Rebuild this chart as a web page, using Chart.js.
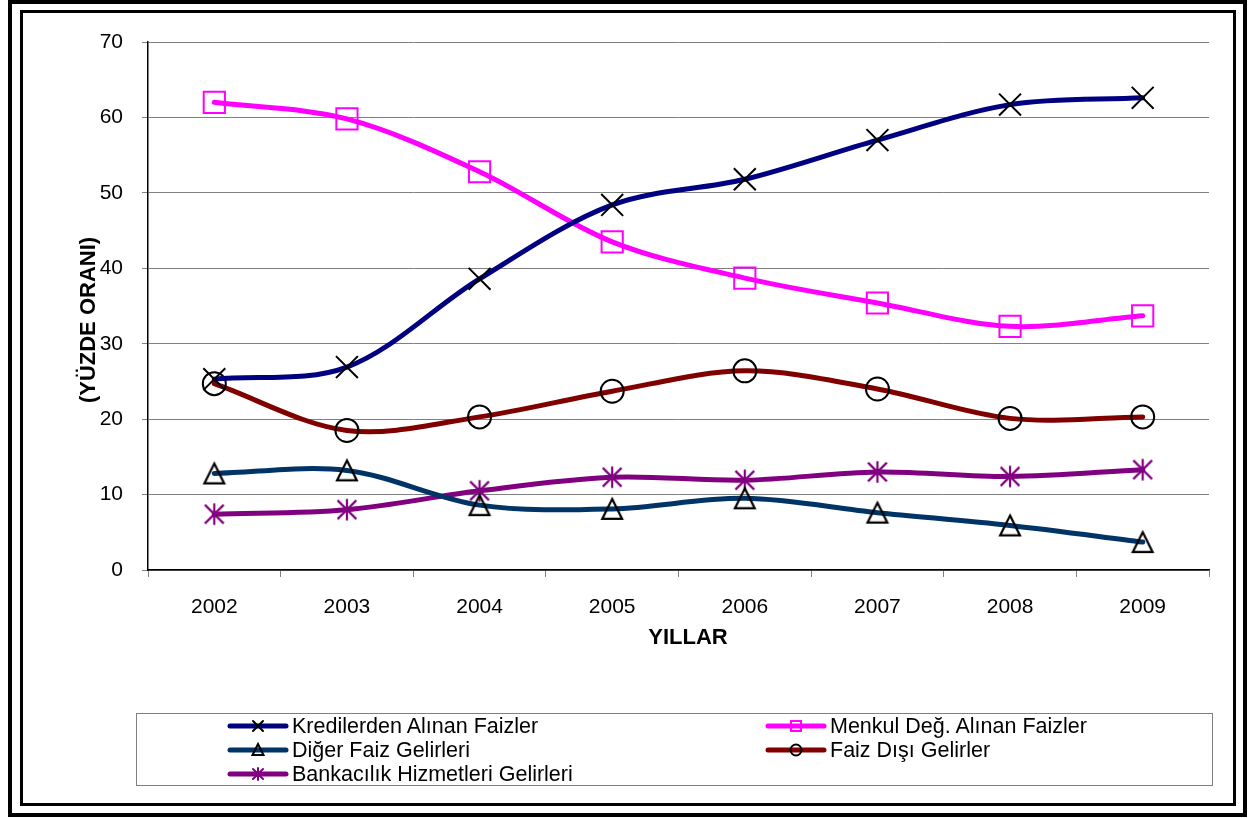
<!DOCTYPE html>
<html>
<head>
<meta charset="utf-8">
<script src="https://cdn.jsdelivr.net/npm/chart.js@4.4.0/dist/chart.umd.min.js"></script>
<style>
  body { margin: 0; background: #fff; font-family: "Liberation Sans", Arial, sans-serif; }
  #wrap { position: relative; width: 1258px; height: 818px; overflow: hidden; background: #fff; }
  #chart { position: absolute; left: 0; top: 0; }
  .frame-outer { position: absolute; left: 8px; top: 0; width: 1239px; height: 817px; border: 4px solid #000; box-sizing: border-box; }
  .frame-inner { position: absolute; left: 20px; top: 10px; width: 1216px; height: 796px; border: 3px solid #000; box-sizing: border-box; }
  .ytitle { position: absolute; left: 88px; top: 320px; transform: translate(-50%, -50%) rotate(-90deg); font-weight: bold; font-size: 22px; white-space: nowrap; color: #000; }
  .xtitle { position: absolute; left: 688px; top: 637px; transform: translate(-50%, -50%); font-weight: bold; font-size: 22px; white-space: nowrap; color: #000; }
  .legend { position: absolute; left: 136px; top: 713px; width: 1077px; height: 73px; border: 1px solid #808080; box-sizing: border-box; }
  .item { position: absolute; height: 24px; }
  .item canvas { position: absolute; left: 0; top: 0; }
  .item span { position: absolute; left: 65px; top: 0; line-height: 24px; font-size: 21.5px; white-space: nowrap; color: #000; }
</style>
</head>
<body>
<div id="wrap">
  <canvas id="chart" width="1258" height="818"></canvas>
  <div class="frame-outer"></div>
  <div class="frame-inner"></div>
  <div class="ytitle">(YÜZDE ORANI)</div>
  <div class="xtitle">YILLAR</div>
</div>
<script>
// Data
const years = ["2002", "2003", "2004", "2005", "2006", "2007", "2008", "2009"];
const krediler = [25.3, 26.9, 38.6, 48.4, 51.8, 57.0, 61.7, 62.6];
const menkul = [62.0, 59.8, 52.8, 43.5, 38.7, 35.4, 32.3, 33.7];
const diger = [12.8, 13.2, 8.6, 8.1, 9.5, 7.6, 5.9, 3.7];
const faizDisi = [24.7, 18.5, 20.3, 23.7, 26.4, 24.0, 20.1, 20.3];
const bankacilik = [7.4, 8.0, 10.5, 12.3, 11.9, 13.0, 12.4, 13.3];
const seriesNames = [
  "Kredilerden Alınan Faizler",
  "Menkul Değ. Alınan Faizler",
  "Diğer Faiz Gelirleri",
  "Faiz Dışı Gelirler",
  "Bankacılık Hizmetleri Gelirleri"
];

// Excel-like asterisk marker (vertical line + X)
function makeStar(size, color, lw) {
  const c = document.createElement("canvas");
  c.width = size;
  c.height = size;
  const g = c.getContext("2d");
  const h = size / 2;
  const r = h - lw;
  g.strokeStyle = color;
  g.lineWidth = lw;
  g.beginPath();
  g.moveTo(h, h - r);
  g.lineTo(h, h + r);
  g.moveTo(h - r * 0.87, h - r * 0.87);
  g.lineTo(h + r * 0.87, h + r * 0.87);
  g.moveTo(h + r * 0.87, h - r * 0.87);
  g.lineTo(h - r * 0.87, h + r * 0.87);
  g.stroke();
  return c;
}

// Excel-like triangle, centred on its bounding box
function makeTriangle(w, hgt, color, lw) {
  const c = document.createElement("canvas");
  c.width = w + 4;
  c.height = hgt + 4;
  const g = c.getContext("2d");
  g.strokeStyle = color;
  g.lineWidth = lw;
  g.lineJoin = "miter";
  g.beginPath();
  g.moveTo(c.width / 2, 2 + lw / 2);
  g.lineTo(2 + w - lw / 2, 2 + hgt - lw / 2);
  g.lineTo(2 + lw / 2, 2 + hgt - lw / 2);
  g.closePath();
  g.stroke();
  return c;
}

const starBig = makeStar(26, "#800080", 2.2);
const triBig = makeTriangle(22, 22, "#000", 2.2);

function series(label, data, color, pointStyle, radius, pointColor) {
  return {
    label: label,
    data: data,
    borderColor: color,
    borderWidth: 5,
    tension: 0.33,
    fill: false,
    pointStyle: pointStyle,
    pointRadius: radius,
    pointHoverRadius: radius,
    pointBorderWidth: 2,
    pointBorderColor: pointColor,
    pointBackgroundColor: "rgba(0,0,0,0)",
    borderCapStyle: "round",
  };
}

const ctx = document.getElementById("chart").getContext("2d");
new Chart(ctx, {
  type: "line",
  data: {
    labels: years,
    datasets: [
      series(seriesNames[0], krediler, "#000080", "crossRot", 15.5, "#000"),
      series(seriesNames[1], menkul, "#ff00ff", "rect", 15, "#ff00ff"),
      series(seriesNames[2], diger, "#003366", triBig, 13, "#000"),
      series(seriesNames[3], faizDisi, "#800000", "circle", 11.5, "#000"),
      series(seriesNames[4], bankacilik, "#800080", starBig, 13, "#800080"),
    ],
  },
  options: {
    responsive: false,
    animation: false,
    layout: { padding: { left: 60, top: 42, right: 49, bottom: 164 } },
    plugins: {
      legend: { display: false },
      tooltip: { enabled: false },
    },
    scales: {
      x: {
        offset: true,
        grid: {
          drawOnChartArea: false,
          drawTicks: true,
          tickLength: 7,
          color: "#808080",
          offset: true,
        },
        border: { color: "#000", width: 1.5 },
        ticks: {
          color: "#000",
          padding: 18,
          font: { family: "Liberation Sans, Arial", size: 21 },
        },
        afterFit: (scale) => { scale.height = 84; },
      },
      y: {
        min: 0,
        max: 70,
        ticks: {
          stepSize: 10,
          color: "#000",
          padding: 19,
          font: { family: "Liberation Sans, Arial", size: 21 },
        },
        grid: { color: "#808080", lineWidth: 1, tickLength: 6 },
        border: { color: "#000", width: 1.5 },
        afterFit: (scale) => { scale.width = 88; },
      },
    },
  },
});

// Custom legend built from the same series
const legendItems = [
  { name: seriesNames[0], color: "#000080", marker: "x", mcolor: "#000", left: 227, top: 726 },
  { name: seriesNames[1], color: "#ff00ff", marker: "square", mcolor: "#ff00ff", left: 765, top: 726 },
  { name: seriesNames[2], color: "#003366", marker: "triangle", mcolor: "#000", left: 227, top: 750 },
  { name: seriesNames[3], color: "#800000", marker: "circle", mcolor: "#000", left: 765, top: 750 },
  { name: seriesNames[4], color: "#800080", marker: "star", mcolor: "#800080", left: 227, top: 774 },
];

const wrap = document.getElementById("wrap");
const legendBox = document.createElement("div");
legendBox.className = "legend";
wrap.appendChild(legendBox);

legendItems.forEach((it) => {
  const item = document.createElement("div");
  item.className = "item";
  item.style.left = it.left + "px";
  item.style.top = (it.top - 12) + "px";
  const c = document.createElement("canvas");
  c.width = 62;
  c.height = 24;
  const g = c.getContext("2d");
  g.lineCap = "round";
  g.strokeStyle = it.color;
  g.lineWidth = 5;
  g.beginPath();
  g.moveTo(3, 12);
  g.lineTo(59, 12);
  g.stroke();
  g.strokeStyle = it.mcolor;
  g.lineWidth = 2;
  g.beginPath();
  const cx = 31, cy = 12;
  if (it.marker === "x") {
    g.moveTo(cx - 5, cy - 5); g.lineTo(cx + 5, cy + 5);
    g.moveTo(cx + 5, cy - 5); g.lineTo(cx - 5, cy + 5);
  } else if (it.marker === "square") {
    g.rect(cx - 5, cy - 5, 10, 10);
  } else if (it.marker === "triangle") {
    g.moveTo(cx, cy - 6); g.lineTo(cx + 5.5, cy + 5); g.lineTo(cx - 5.5, cy + 5); g.closePath();
  } else if (it.marker === "circle") {
    g.arc(cx, cy, 5.5, 0, Math.PI * 2);
  } else if (it.marker === "star") {
    g.moveTo(cx, cy - 6); g.lineTo(cx, cy + 6);
    g.moveTo(cx - 5, cy - 5); g.lineTo(cx + 5, cy + 5);
    g.moveTo(cx + 5, cy - 5); g.lineTo(cx - 5, cy + 5);
  }
  g.stroke();
  item.appendChild(c);
  const s = document.createElement("span");
  s.textContent = it.name;
  item.appendChild(s);
  wrap.appendChild(item);
});
</script>
</body>
</html>
